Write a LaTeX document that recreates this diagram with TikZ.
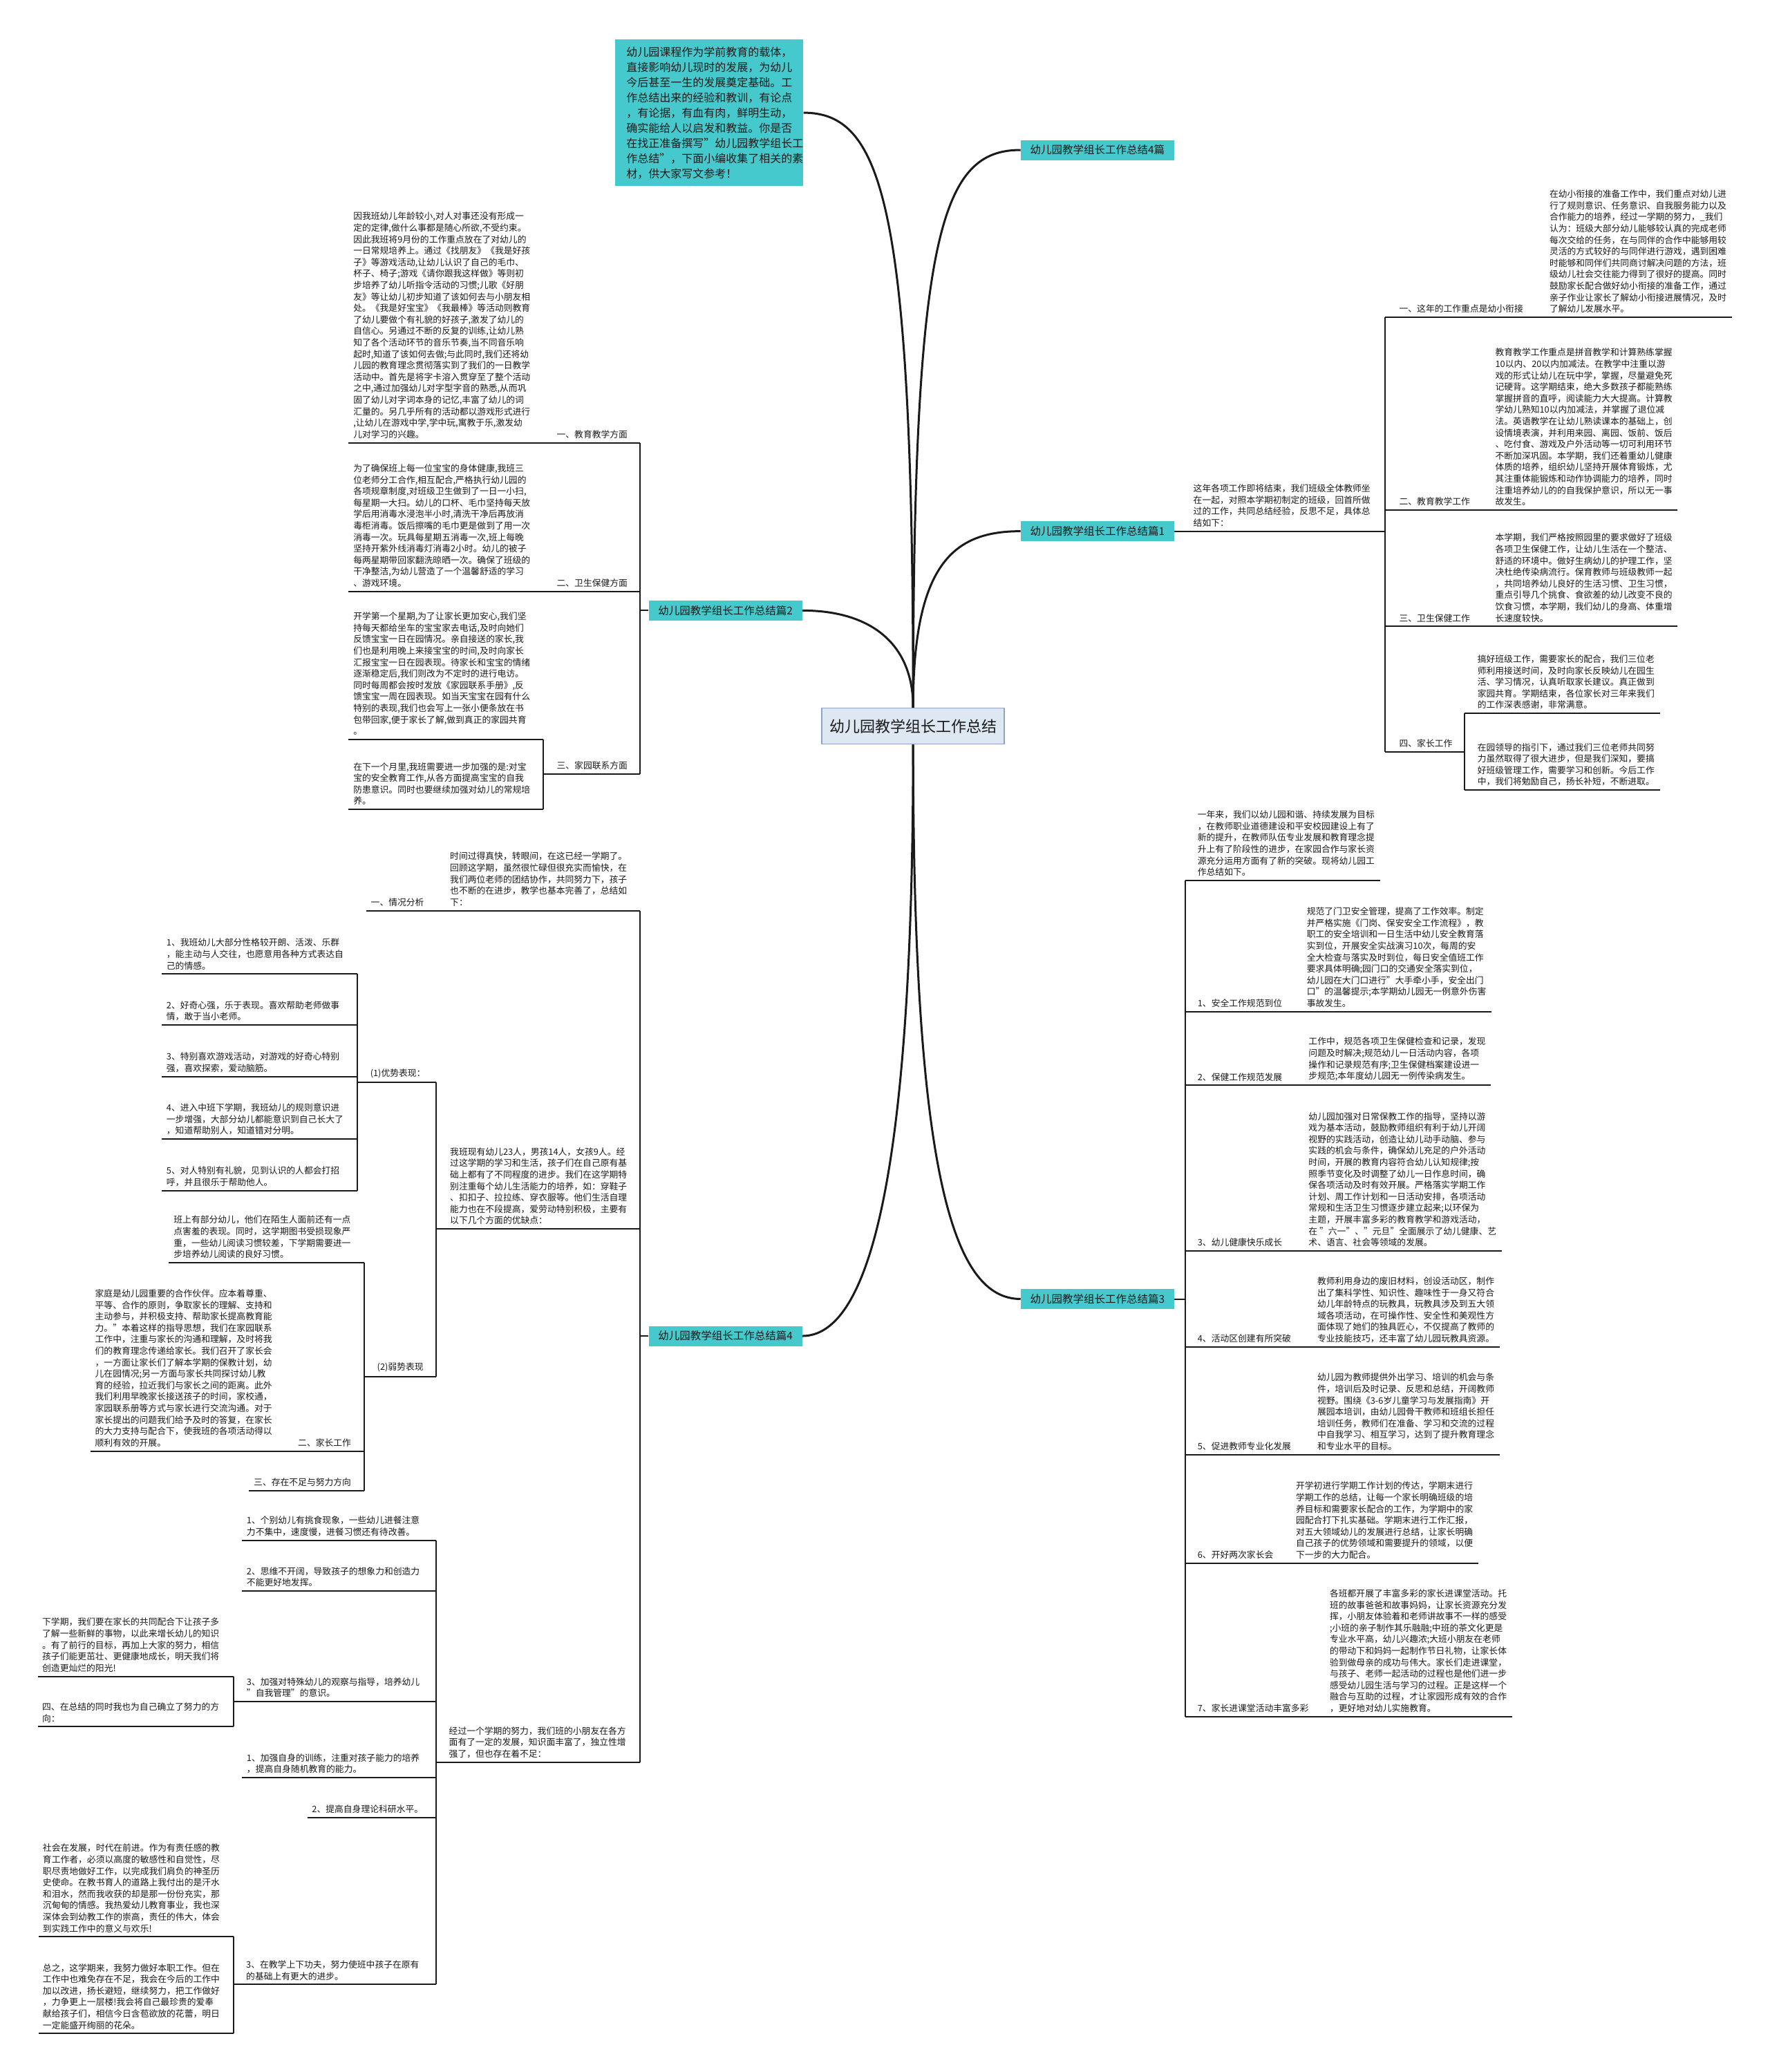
\documentclass[tikz,border=0pt]{standalone}
\usepackage{fontspec}
\setmainfont{Noto Sans CJK SC}
\usepackage{tikz}
\usetikzlibrary{calc}
\definecolor{tealfill}{HTML}{45C9CC}
\definecolor{rootfill}{HTML}{DDE8F3}
\definecolor{rootdraw}{HTML}{8DA5C3}
\definecolor{ink}{HTML}{1A1A1A}
\newcommand{\mapfont}{\fontsize{12.8pt}{16.6pt}\selectfont}

\begin{document}
\begin{tikzpicture}[x=1.912pt, y=-1.912pt,
  txt/.style={font=\mapfont, align=left, inner xsep=0pt, inner ysep=6pt, text=ink},
  tree/.style={draw=ink, line width=2pt},
  stem/.style={draw=ink, line width=3pt},
  branchbox/.style={fill=tealfill, font=\fontsize{15.5pt}{18pt}\selectfont, text=ink,
    minimum width=222pt, minimum height=29pt, inner sep=0pt},
  rootbox/.style={fill=rootfill, draw=rootdraw, line width=1.5pt,
    font=\fontsize{22pt}{26pt}\selectfont, text=ink,
    minimum width=264pt, minimum height=52pt, inner sep=0pt}]

\useasboundingbox (0,0) rectangle (1339,1568);
\fill[white] (0,0) rectangle (1339,1568);

% centre and main branches
\node[rootbox] (root) at (691,549.5) {幼儿园教学组长工作总结};
\node[fill=tealfill, text=ink, font=\fontsize{16pt}{22pt}\selectfont, align=left,
  text width=240pt, inner xsep=16pt, inner ysep=10pt] (intro) at (536.8,85.3)
  {幼儿园课程作为学前教育的载体，\\
   直接影响幼儿现时的发展，为幼儿\\
   今后甚至一生的发展奠定基础。工\\
   作总结出来的经验和教训，有论点\\
   ，有论据，有血有肉，鲜明生动，\\
   确实能给人以启发和教益。你是否\\
   在找正准备撰写"幼儿园教学组长工\\
   作总结"，下面小编收集了相关的素\\
   材，供大家写文参考！};
\node[branchbox] (b4p) at (830.5,113.5) {幼儿园教学组长工作总结4篇};
\node[branchbox] (b1) at (830.5,402) {幼儿园教学组长工作总结篇1};
\node[branchbox] (b2) at (549,462) {幼儿园教学组长工作总结篇2};
\node[branchbox] (b3) at (830.5,983) {幼儿园教学组长工作总结篇3};
\node[branchbox] (b4) at (549,1011) {幼儿园教学组长工作总结篇4};

\draw[stem] (root.north) .. controls +(0,-380) and +(60,0) .. (intro.east);
\draw[stem] (root.north) .. controls +(0,-360) and +(-60,0) .. (b4p.west);
\draw[stem] (root.north) .. controls +(0,-110) and +(-50,0) .. (b1.west);
\draw[stem] (root.north) .. controls +(0,-50) and +(50,0) .. (b2.east);
\draw[stem] (root.south) .. controls +(0,330) and +(-50,0) .. (b3.west);
\draw[stem] (root.south) .. controls +(0,330) and +(50,0) .. (b4.east);

% ---- 篇1 ----
\coordinate (v1) at (1048,0);
\coordinate (v1d) at (1108,0);
\node[txt, anchor=south west] (t1i) at (903,402)
  {这年各项工作即将结束，我们班级全体教师坐\\
   在一起，对照本学期初制定的班级，回首所做\\
   过的工作，共同总结经验，反思不足，具体总\\
   结如下：};
\draw[tree] (b1.east) -- (v1 |- b1.east);
\node[txt, anchor=south west] (l1a) at (1058.8,240) {一、这年的工作重点是幼小衔接};
\node[txt, anchor=south west] (t1a) at (1172.5,240)
  {在幼小衔接的准备工作中，我们重点对幼儿进\\
   行了规则意识、任务意识、自我服务能力以及\\
   合作能力的培养，经过一学期的努力，\_我们\\
   认为：班级大部分幼儿能够较认真的完成老师\\
   每次交给的任务，在与同伴的合作中能够用较\\
   灵活的方式较好的与同伴进行游戏，遇到困难\\
   时能够和同伴们共同商讨解决问题的方法，班\\
   级幼儿社会交往能力得到了很好的提高。同时\\
   鼓励家长配合做好幼小衔接的准备工作，通过\\
   亲子作业让家长了解幼小衔接进展情况，及时\\
   了解幼儿发展水平。};
\node[txt, anchor=south west] (l1b) at (1058.8,386) {二、教育教学工作};
\node[txt, anchor=south west] (t1b) at (1131.5,386)
  {教育教学工作重点是拼音教学和计算熟练掌握\\
   10以内、20以内加减法。在教学中注重以游\\
   戏的形式让幼儿在玩中学，掌握，尽量避免死\\
   记硬背。这学期结束，绝大多数孩子都能熟练\\
   掌握拼音的直呼，阅读能力大大提高。计算教\\
   学幼儿熟知10以内加减法，并掌握了退位减\\
   法。英语教学在让幼儿熟读课本的基础上，创\\
   设情境表演，并利用来园、离园、饭前、饭后\\
   、吃付食、游戏及户外活动等一切可利用环节\\
   不断加深巩固。本学期，我们还着重幼儿健康\\
   体质的培养，组织幼儿坚持开展体育锻炼，尤\\
   其注重体能锻炼和动作协调能力的培养，同时\\
   注重培养幼儿的的自我保护意识，所以无一事\\
   故发生。};
\node[txt, anchor=south west] (l1c) at (1058.8,474) {三、卫生保健工作};
\node[txt, anchor=south west] (t1c) at (1131.5,474)
  {本学期，我们严格按照园里的要求做好了班级\\
   各项卫生保健工作，让幼儿生活在一个整洁、\\
   舒适的环境中。做好生病幼儿的护理工作，坚\\
   决杜绝传染病流行。保育教师与班级教师一起\\
   ，共同培养幼儿良好的生活习惯、卫生习惯，\\
   重点引导几个挑食、食欲差的幼儿改变不良的\\
   饮食习惯，本学期，我们幼儿的身高、体重增\\
   长速度较快。};
\node[txt, anchor=south west] (l1d) at (1058.8,569) {四、家长工作};
\node[txt, anchor=south west] (t1d) at (1118,540)
  {搞好班级工作，需要家长的配合，我们三位老\\
   师利用接送时间，及时向家长反映幼儿在园生\\
   活、学习情况，认真听取家长建议。真正做到\\
   家园共育。学期结束，各位家长对三年来我们\\
   的工作深表感谢，非常满意。};
\node[txt, anchor=south west] (t1e) at (1118,598)
  {在园领导的指引下，通过我们三位老师共同努\\
   力虽然取得了很大进步，但是我们深知，要搞\\
   好班级管理工作，需要学习和创新。今后工作\\
   中，我们将勉励自己，扬长补短，不断进取。};
\draw[tree] (v1 |- l1a.south) -- (v1 |- l1d.south);
\draw[tree] (v1 |- l1a.south) -- ($(t1a.south east)+(4,0)$);
\draw[tree] (v1 |- l1b.south) -- ($(t1b.south east)+(4,0)$);
\draw[tree] (v1 |- l1c.south) -- ($(t1c.south east)+(4,0)$);
\draw[tree] (v1 |- l1d.south) -- (v1d |- l1d.south);
\draw[tree] (v1d |- t1d.south) -- (v1d |- t1e.south);
\draw[tree] (v1d |- t1d.south) -- ($(t1d.south east)+(4,0)$);
\draw[tree] (v1d |- t1e.south) -- ($(t1e.south east)+(4,0)$);

% ---- 篇2 ----
\coordinate (v2) at (484.5,0);
\coordinate (v2d) at (411.3,0);
\draw[tree] (b2.west) -- (v2 |- b2.west);
\node[txt, anchor=south east] (l2a) at (475,335) {一、教育教学方面};
\node[txt, anchor=south west] (t2a) at (267.3,335)
  {因我班幼儿年龄较小,对人对事还没有形成一\\
   定的定律,做什么事都是随心所欲,不受约束。\\
   因此我班将9月份的工作重点放在了对幼儿的\\
   一日常规培养上。通过《找朋友》《我是好孩\\
   子》等游戏活动,让幼儿认识了自己的毛巾、\\
   杯子、椅子;游戏《请你跟我这样做》等则初\\
   步培养了幼儿听指令活动的习惯;儿歌《好朋\\
   友》等让幼儿初步知道了该如何去与小朋友相\\
   处。《我是好宝宝》《我最棒》等活动则教育\\
   了幼儿要做个有礼貌的好孩子,激发了幼儿的\\
   自信心。另通过不断的反复的训练,让幼儿熟\\
   知了各个活动环节的音乐节奏,当不同音乐响\\
   起时,知道了该如何去做;与此同时,我们还将幼\\
   儿园的教育理念贯彻落实到了我们的一日教学\\
   活动中。首先是将字卡溶入贯穿至了整个活动\\
   之中,通过加强幼儿对字型字音的熟悉,从而巩\\
   固了幼儿对字词本身的记忆,丰富了幼儿的词\\
   汇量的。另几乎所有的活动都以游戏形式进行\\
   ,让幼儿在游戏中学,学中玩,寓教于乐,激发幼\\
   儿对学习的兴趣。};
\node[txt, anchor=south east] (l2b) at (475,447.6) {二、卫生保健方面};
\node[txt, anchor=south west] (t2b) at (267.3,447.6)
  {为了确保班上每一位宝宝的身体健康,我班三\\
   位老师分工合作,相互配合,严格执行幼儿园的\\
   各项规章制度,对班级卫生做到了一日一小扫,\\
   每星期一大扫。幼儿的口杯、毛巾坚持每天放\\
   学后用消毒水浸泡半小时,清洗干净后再放消\\
   毒柜消毒。饭后擦嘴的毛巾更是做到了用一次\\
   消毒一次。玩具每星期五消毒一次,班上每晚\\
   坚持开紫外线消毒灯消毒2小时。幼儿的被子\\
   每两星期带回家翻洗晾晒一次。确保了班级的\\
   干净整洁,为幼儿营造了一个温馨舒适的学习\\
   、游戏环境。};
\node[txt, anchor=south east] (l2c) at (475,585.6) {三、家园联系方面};
\node[txt, anchor=south west] (t2c) at (267.3,559.5)
  {开学第一个星期,为了让家长更加安心,我们坚\\
   持每天都给坐车的宝宝家去电话,及时向她们\\
   反馈宝宝一日在园情况。亲自接送的家长,我\\
   们也是利用晚上来接宝宝的时间,及时向家长\\
   汇报宝宝一日在园表现。待家长和宝宝的情绪\\
   逐渐稳定后,我们则改为不定时的进行电访。\\
   同时每周都会按时发放《家园联系手册》,反\\
   馈宝宝一周在园表现。如当天宝宝在园有什么\\
   特别的表现,我们也会写上一张小便条放在书\\
   包带回家,便于家长了解,做到真正的家园共育\\
   。};
\node[txt, anchor=south west] (t2d) at (267.3,612.6)
  {在下一个月里,我班需要进一步加强的是:对宝\\
   宝的安全教育工作,从各方面提高宝宝的自我\\
   防患意识。同时也要继续加强对幼儿的常规培\\
   养。};
\draw[tree] (v2 |- l2a.south) -- (v2 |- l2c.south);
\draw[tree] ($(t2a.south west)+(-3.5,0)$) -- (v2 |- l2a.south);
\draw[tree] ($(t2b.south west)+(-3.5,0)$) -- (v2 |- l2b.south);
\draw[tree] (v2d |- l2c.south) -- (v2 |- l2c.south);
\draw[tree] (v2d |- t2c.south) -- (v2d |- t2d.south);
\draw[tree] ($(t2c.south west)+(-3.5,0)$) -- (v2d |- t2c.south);
\draw[tree] ($(t2d.south west)+(-3.5,0)$) -- (v2d |- t2d.south);

% ---- 篇3 ----
\coordinate (v3) at (897,0);
\draw[tree] (b3.east) -- (v3 |- b3.east);
\node[txt, anchor=south west] (t3i) at (906.2,666.3)
  {一年来，我们以幼儿园和谐、持续发展为目标\\
   ，在教师职业道德建设和平安校园建设上有了\\
   新的提升，在教师队伍专业发展和教育理念提\\
   升上有了阶段性的进步，在家园合作与家长资\\
   源充分运用方面有了新的突破。现将幼儿园工\\
   作总结如下。};
\node[txt, anchor=south west] (l3a) at (906.2,765.6) {1、安全工作规范到位};
\node[txt, anchor=south west] (t3a) at (988.8,765.6)
  {规范了门卫安全管理，提高了工作效率。制定\\
   并严格实施《门岗、保安安全工作流程》，教\\
   职工的安全培训和一日生活中幼儿安全教育落\\
   实到位，开展安全实战演习10次，每周的安\\
   全大检查与落实及时到位，每日安全值班工作\\
   要求具体明确;园门口的交通安全落实到位，\\
   幼儿园在大门口进行"大手牵小手，安全出门\\
   口"的温馨提示;本学期幼儿园无一例意外伤害\\
   事故发生。};
\node[txt, anchor=south west] (l3b) at (906.2,821.3) {2、保健工作规范发展};
\node[txt, anchor=south west] (t3b) at (990.2,821.3)
  {工作中，规范各项卫生保健检查和记录，发现\\
   问题及时解决;规范幼儿一日活动内容，各项\\
   操作和记录规范有序;卫生保健档案建设进一\\
   步规范;本年度幼儿园无一例传染病发生。};
\node[txt, anchor=south west] (l3c) at (906.2,946.6) {3、幼儿健康快乐成长};
\node[txt, anchor=south west] (t3c) at (990.2,946.6)
  {幼儿园加强对日常保教工作的指导，坚持以游\\
   戏为基本活动，鼓励教师组织有利于幼儿开阔\\
   视野的实践活动，创造让幼儿动手动脑、参与\\
   实践的机会与条件，确保幼儿充足的户外活动\\
   时间，开展的教育内容符合幼儿认知规律;按\\
   照季节变化及时调整了幼儿一日作息时间，确\\
   保各项活动及时有效开展。严格落实学期工作\\
   计划、周工作计划和一日活动安排，各项活动\\
   常规和生活卫生习惯逐步建立起来;以环保为\\
   主题，开展丰富多彩的教育教学和游戏活动，\\
   在 "六一"、"元旦"全面展示了幼儿健康、艺\\
   术、语言、社会等领域的发展。};
\node[txt, anchor=south west] (l3d) at (906.2,1019.4) {4、活动区创建有所突破};
\node[txt, anchor=south west] (t3d) at (996.8,1019.4)
  {教师利用身边的废旧材料，创设活动区，制作\\
   出了集科学性、知识性、趣味性于一身又符合\\
   幼儿年龄特点的玩教具，玩教具涉及到五大领\\
   域各项活动，在可操作性、安全性和美观性方\\
   面体现了她们的独具匠心，不仅提高了教师的\\
   专业技能技巧，还丰富了幼儿园玩教具资源。};
\node[txt, anchor=south west] (l3e) at (906.2,1100.8) {5、促进教师专业化发展};
\node[txt, anchor=south west] (t3e) at (996.8,1100.8)
  {幼儿园为教师提供外出学习、培训的机会与条\\
   件，培训后及时记录、反思和总结，开阔教师\\
   视野。围绕《3-6岁儿童学习与发展指南》开\\
   展园本培训，由幼儿园骨干教师和班组长担任\\
   培训任务，教师们在准备、学习和交流的过程\\
   中自我学习、相互学习，达到了提升教育理念\\
   和专业水平的目标。};
\node[txt, anchor=south west] (l3f) at (906.2,1182.9) {6、开好两次家长会};
\node[txt, anchor=south west] (t3f) at (980.6,1182.9)
  {开学初进行学期工作计划的传达，学期末进行\\
   学期工作的总结，让每一个家长明确班级的培\\
   养目标和需要家长配合的工作，为学期中的家\\
   园配合打下扎实基础。学期末进行工作汇报，\\
   对五大领域幼儿的发展进行总结，让家长明确\\
   自己孩子的优势领域和需要提升的领域，以便\\
   下一步的大力配合。};
\node[txt, anchor=south west] (l3g) at (906.2,1299.2) {7、家长进课堂活动丰富多彩};
\node[txt, anchor=south west] (t3g) at (1006.2,1299.2)
  {各班都开展了丰富多彩的家长进课堂活动。托\\
   班的故事爸爸和故事妈妈，让家长资源充分发\\
   挥，小朋友体验着和老师讲故事不一样的感受\\
   ;小班的亲子制作其乐融融;中班的茶文化更是\\
   专业水平高，幼儿兴趣浓;大班小朋友在老师\\
   的带动下和妈妈一起制作节日礼物，让家长体\\
   验到做母亲的成功与伟大。家长们走进课堂，\\
   与孩子、老师一起活动的过程也是他们进一步\\
   感受幼儿园生活与学习的过程。正是这样一个\\
   融合与互助的过程，才让家园形成有效的合作\\
   ，更好地对幼儿实施教育。};
\draw[tree] (v3 |- t3i.south) -- (v3 |- l3g.south);
\draw[tree] (v3 |- t3i.south) -- ($(t3i.south east)+(4,0)$);
\draw[tree] (v3 |- l3a.south) -- ($(t3a.south east)+(4,0)$);
\draw[tree] (v3 |- l3b.south) -- ($(t3b.south east)+(4,0)$);
\draw[tree] (v3 |- l3c.south) -- ($(t3c.south east)+(4,0)$);
\draw[tree] (v3 |- l3d.south) -- ($(t3d.south east)+(4,0)$);
\draw[tree] (v3 |- l3e.south) -- ($(t3e.south east)+(4,0)$);
\draw[tree] (v3 |- l3f.south) -- ($(t3f.south east)+(4,0)$);
\draw[tree] (v3 |- l3g.south) -- ($(t3g.south east)+(4,0)$);

% ---- 篇4 ----
\coordinate (v4) at (484.5,0);
\coordinate (v4b) at (330.2,0);
\coordinate (v4i) at (270.5,0);
\coordinate (v4c) at (275.6,0);
\coordinate (v4e) at (330,0);
\coordinate (v4g) at (177,0);
\coordinate (v4h) at (176.9,0);
\draw[tree] (b4.west) -- (v4 |- b4.west);
\node[txt, anchor=south west] (l4a) at (280.6,689.1) {一、情况分析};
\node[txt, anchor=south west] (t4a) at (340.5,689.1)
  {时间过得真快，转眼间，在这已经一学期了。\\
   回顾这学期，虽然很忙碌但很充实而愉快，在\\
   我们两位老师的团结协作，共同努力下，孩子\\
   也不断的在进步，教学也基本完善了，总结如\\
   下：};
\node[txt, anchor=south west] (t4b) at (340.5,930)
  {我班现有幼儿23人，男孩14人，女孩9人。经\\
   过这学期的学习和生活，孩子们在自己原有基\\
   础上都有了不同程度的进步。我们在这学期特\\
   别注重每个幼儿生活能力的培养，如：穿鞋子\\
   、扣扣子、拉拉练、穿衣服等。他们生活自理\\
   能力也在不段提高，爱劳动特别积极，主要有\\
   以下几个方面的优缺点：};
\node[txt, anchor=south west] (l4b) at (280.1,818.9) {(1)优势表现：};
\node[txt, anchor=south west] (i1) at (125.9,737.1)
  {1、我班幼儿大部分性格较开朗、活泼、乐群\\
   ，能主动与人交往，也愿意用各种方式表达自\\
   己的情感。};
\node[txt, anchor=south west] (i2) at (125.9,775.8)
  {2、好奇心强，乐于表现。喜欢帮助老师做事\\
   情，敢于当小老师。};
\node[txt, anchor=south west] (i3) at (125.9,814.8)
  {3、特别喜欢游戏活动，对游戏的好奇心特别\\
   强，喜欢探索，爱动脑筋。};
\node[txt, anchor=south west] (i4) at (125.9,862.1)
  {4、进入中班下学期，我班幼儿的规则意识进\\
   一步增强，大部分幼儿都能意识到自己长大了\\
   ，知道帮助别人，知道错对分明。};
\node[txt, anchor=south west] (i5) at (125.9,901)
  {5、对人特别有礼貌，见到认识的人都会打招\\
   呼，并且很乐于帮助他人。};
\node[txt, anchor=south west] (l4c) at (285.3,1041.6) {(2)弱势表现};
\node[txt, anchor=south west] (t4c) at (131.4,955.5)
  {班上有部分幼儿，他们在陌生人面前还有一点\\
   点害羞的表现。同时，这学期图书受损现象严\\
   重，一些幼儿阅读习惯较差，下学期需要进一\\
   步培养幼儿阅读的良好习惯。};
\node[txt, anchor=south east] (l4d) at (265.8,1098.1) {二、家长工作};
\node[txt, anchor=south west] (t4d) at (71.9,1098.1)
  {家庭是幼儿园重要的合作伙伴。应本着尊重、\\
   平等、合作的原则，争取家长的理解、支持和\\
   主动参与，并积极支持、帮助家长提高教育能\\
   力。"本着这样的指导思想，我们在家园联系\\
   工作中，注重与家长的沟通和理解，及时将我\\
   们的教育理念传递给家长。我们召开了家长会\\
   ，一方面让家长们了解本学期的保教计划，幼\\
   儿在园情况;另一方面与家长共同探讨幼儿教\\
   育的经验，拉近我们与家长之间的距离。此外\\
   我们利用早晚家长接送孩子的时间，家校通，\\
   家园联系册等方式与家长进行交流沟通。对于\\
   家长提出的问题我们给予及时的答复，在家长\\
   的大力支持与配合下，使我班的各项活动得以\\
   顺利有效的开展。};
\node[txt, anchor=south east] (l4e) at (265.8,1128) {三、存在不足与努力方向};
\node[txt, anchor=south west] (t4e) at (339.7,1333.6)
  {经过一个学期的努力，我们班的小朋友在各方\\
   面有了一定的发展，知识面丰富了，独立性增\\
   强了，但也存在着不足：};
\node[txt, anchor=south west] (j1) at (186.6,1165.8)
  {1、个别幼儿有挑食现象，一些幼儿进餐注意\\
   力不集中，速度慢，进餐习惯还有待改善。};
\node[txt, anchor=south west] (j2) at (186.6,1204.1)
  {2、思维不开阔，导致孩子的想象力和创造力\\
   不能更好地发挥。};
\node[txt, anchor=south west] (j3) at (186.6,1287.7)
  {3、加强对特殊幼儿的观察与指导，培养幼儿\\
   "自我管理"的意识。};
\node[txt, anchor=south west] (k1) at (31.9,1268.6)
  {下学期，我们要在家长的共同配合下让孩子多\\
   了解一些新鲜的事物，以此来增长幼儿的知识\\
   。有了前行的目标，再加上大家的努力，相信\\
   孩子们能更茁壮、更健康地成长，明天我们将\\
   创造更灿烂的阳光!};
\node[txt, anchor=south west] (k2) at (31.9,1306.6)
  {四、在总结的同时我也为自己确立了努力的方\\
   向：};
\node[txt, anchor=south west] (j4) at (186.6,1345.4)
  {1、加强自身的训练，注重对孩子能力的培养\\
   ，提高自身随机教育的能力。};
\node[txt, anchor=south west] (j5) at (236,1375.4) {2、提高自身理论科研水平。};
\node[txt, anchor=south west] (j6) at (186.2,1501.8)
  {3、在教学上下功夫，努力使班中孩子在原有\\
   的基础上有更大的进步。};
\node[txt, anchor=south west] (k3) at (32.3,1465.7)
  {社会在发展，时代在前进。作为有责任感的教\\
   育工作者，必须以高度的敏感性和自觉性，尽\\
   职尽责地做好工作，以完成我们肩负的神圣历\\
   史使命。在教书育人的道路上我付出的是汗水\\
   和泪水，然而我收获的却是那一份份充实，那\\
   沉甸甸的情感。我热爱幼儿教育事业，我也深\\
   深体会到幼教工作的崇高，责任的伟大，体会\\
   到实践工作中的意义与欢乐!};
\node[txt, anchor=south west] (k4) at (32.3,1538.9)
  {总之，这学期来，我努力做好本职工作。但在\\
   工作中也难免存在不足，我会在今后的工作中\\
   加以改进，扬长避短，继续努力，把工作做好\\
   ，力争更上一层楼!我会将自己最珍贵的爱奉\\
   献给孩子们，相信今日含苞欲放的花蕾，明日\\
   一定能盛开绚丽的花朵。};

\draw[tree] (v4 |- l4a.south) -- (v4 |- t4e.south);
\draw[tree] ($(l4a.south west)+(-3.6,0)$) -- (v4 |- l4a.south);
\draw[tree] (v4b |- t4b.south) -- (v4 |- t4b.south);
\draw[tree] (v4b |- l4b.south) -- (v4b |- l4c.south);
\draw[tree] (v4i |- l4b.south) -- (v4b |- l4b.south);
\draw[tree] (v4i |- i1.south) -- (v4i |- i5.south);
\foreach \n in {i1,i2,i3,i4,i5}
  \draw[tree] ($(\n.south west)+(-3.6,0)$) -- (v4i |- \n.south);
\draw[tree] (v4c |- l4c.south) -- (v4b |- l4c.south);
\draw[tree] (v4c |- t4c.south) -- (v4c |- l4e.south);
\draw[tree] ($(t4c.south west)+(-3.8,0)$) -- (v4c |- t4c.south);
\draw[tree] ($(t4d.south west)+(-3.4,0)$) -- (v4c |- t4d.south);
\draw[tree] ($(l4e.south west)+(-3.6,0)$) -- (v4c |- l4e.south);
\draw[tree] (v4e |- t4e.south) -- (v4 |- t4e.south);
\draw[tree] (v4e |- j1.south) -- (v4e |- j6.south);
\draw[tree] ($(j1.south west)+(-3.6,0)$) -- (v4e |- j1.south);
\draw[tree] ($(j2.south west)+(-3.6,0)$) -- (v4e |- j2.south);
\draw[tree] (v4g |- j3.south) -- (v4e |- j3.south);
\draw[tree] ($(j4.south west)+(-3.6,0)$) -- (v4e |- j4.south);
\draw[tree] ($(j5.south west)+(-3.5,0)$) -- (v4e |- j5.south);
\draw[tree] (v4h |- j6.south) -- (v4e |- j6.south);
\draw[tree] (v4g |- k1.south) -- (v4g |- k2.south);
\draw[tree] ($(k1.south west)+(-3,0)$) -- (v4g |- k1.south);
\draw[tree] ($(k2.south west)+(-3,0)$) -- (v4g |- k2.south);
\draw[tree] (v4h |- k3.south) -- (v4h |- k4.south);
\draw[tree] ($(k3.south west)+(-3.1,0)$) -- (v4h |- k3.south);
\draw[tree] ($(k4.south west)+(-3.1,0)$) -- (v4h |- k4.south);
\end{tikzpicture}
\end{document}
